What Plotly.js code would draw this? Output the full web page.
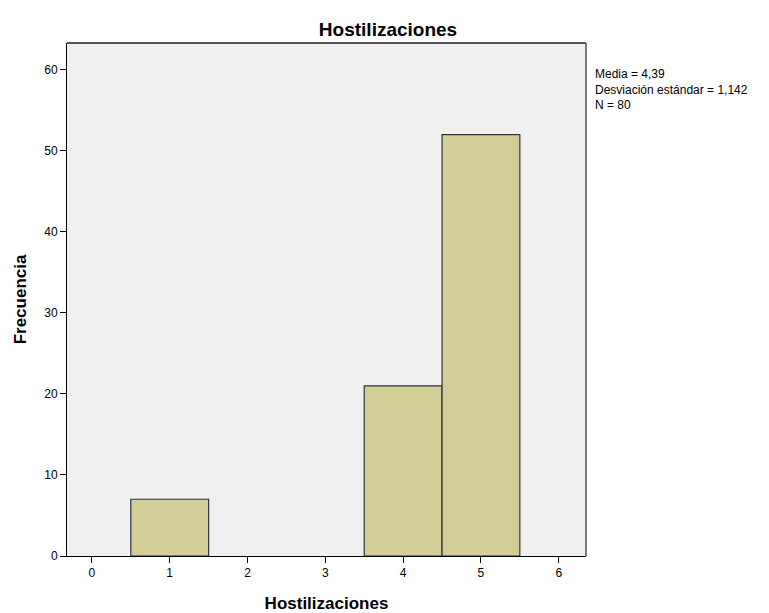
<!DOCTYPE html>
<html>
<head>
<meta charset="utf-8">
<script src="https://cdn.plot.ly/plotly-3.0.1.min.js"></script>
<style>html,body{margin:0;padding:0;background:#fff;}#chart{width:769px;height:613px;}</style>
</head>
<body>
<div id="chart"></div>
<script>
const binCenters = [1, 4, 5];
const frequencies = [7, 21, 52];
const xTicks = [0, 1, 2, 3, 4, 5, 6];
const yTicks = [0, 10, 20, 30, 40, 50, 60];
const statsLines = ["Media = 4,39", "Desviación estándar = 1,142", "N = 80"];
const chartTitle = "Hostilizaciones";
const xTitle = "Hostilizaciones";
const yTitle = "Frecuencia";

const font = "Arial, 'Liberation Sans', sans-serif";

const trace = {
  type: "bar",
  x: binCenters,
  y: frequencies,
  width: 1,
  marker: { color: "#D3CE97", line: { color: "#333333", width: 1.2 } },
  hoverinfo: "x+y"
};

const layout = {
  width: 769,
  height: 613,
  margin: { l: 67, r: 183, t: 43, b: 57 },
  paper_bgcolor: "#ffffff",
  plot_bgcolor: "#F0F0F0",
  showlegend: false,
  bargap: 0,
  title: {
    text: "<b>" + chartTitle + "</b>",
    font: { family: font, size: 19, color: "#000" },
    x: 0.5046, xref: "container", xanchor: "center",
    y: 1, yref: "paper", yanchor: "bottom", pad: { b: 7 }
  },
  xaxis: {
    range: [-0.32, 6.35],
    tickvals: xTicks,
    ticktext: xTicks.map(String),
    ticks: "outside", ticklen: 6, tickwidth: 1, tickcolor: "#000",
    showgrid: false, zeroline: false,
    showline: true, linecolor: "#000", linewidth: 1, mirror: false,
    tickfont: { family: font, size: 12, color: "#000" },
    title: { text: "<b>" + xTitle + "</b>", font: { family: font, size: 17, color: "#000" }, standoff: 18 }
  },
  yaxis: {
    range: [0, 63.3],
    tickvals: yTicks,
    ticktext: yTicks.map(String),
    ticks: "outside", ticklen: 6, tickwidth: 1, tickcolor: "#000",
    showgrid: false, zeroline: false,
    showline: true, linecolor: "#000", linewidth: 1,
    tickfont: { family: font, size: 12, color: "#000" },
    title: { text: "<b>" + yTitle + "</b>", font: { family: font, size: 17, color: "#000" }, standoff: 13 }
  },
  shapes: [
    { type: "line", xref: "paper", yref: "paper", x0: 0, x1: 1, y0: 1, y1: 1, line: { color: "#555", width: 2 } },
    { type: "line", xref: "paper", yref: "paper", x0: 1, x1: 1, y0: 0, y1: 1, line: { color: "#555", width: 1.5 } }
  ],
  annotations: [
    {
      xref: "paper", yref: "paper", x: 1.016, y: 0.909, xanchor: "left", yanchor: "middle",
      align: "left", showarrow: false, borderpad: 0,
      text: statsLines.join("<br>"),
      font: { family: font, size: 12, color: "#000" }
    }
  ]
};

Plotly.newPlot("chart", [trace], layout, { displayModeBar: false, staticPlot: true });
</script>
</body>
</html>
